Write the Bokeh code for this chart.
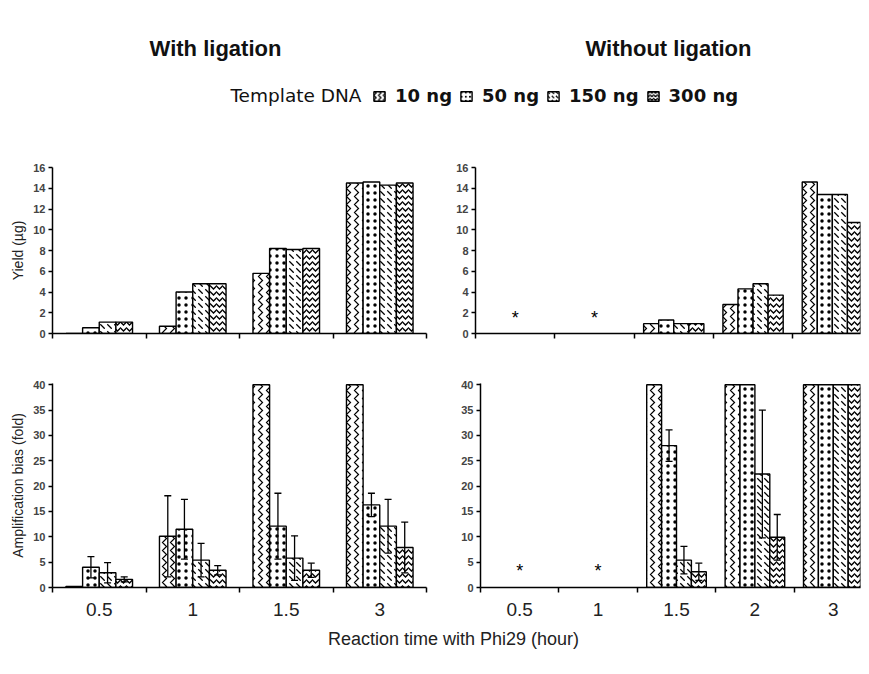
from bokeh.plotting import figure
from bokeh.layouts import column, row
from bokeh.models import (Range1d, FixedTicker, Whisker, ColumnDataSource, Label,
                          Legend, LegendItem, TeeHead)
from bokeh.embed import file_html
from bokeh.resources import INLINE
from bokeh.core.properties import value

nan = float("nan")

# ---------------- data ----------------
doses = ["10 ng", "50 ng", "150 ng", "300 ng"]
times_lig = ["0.5", "1", "1.5", "3"]
times_nolig = ["0.5", "1", "1.5", "2", "3"]

# Yield (ug), with ligation
yield_lig_10 = [0.0, 0.7, 5.8, 14.5]
yield_lig_50 = [0.55, 4.0, 8.2, 14.6]
yield_lig_150 = [1.1, 4.8, 8.1, 14.3]
yield_lig_300 = [1.1, 4.8, 8.2, 14.5]

# Yield (ug), without ligation (nan = no product, marked *)
yield_nolig_10 = [nan, nan, 0.95, 2.8, 14.6]
yield_nolig_50 = [nan, nan, 1.3, 4.3, 13.4]
yield_nolig_150 = [nan, nan, 0.95, 4.8, 13.4]
yield_nolig_300 = [nan, nan, 0.95, 3.7, 10.7]

# Amplification bias (fold), with ligation (40 = off scale)
bias_lig_10 = [0.2, 10.1, 40, 40]
bias_lig_50 = [4.0, 11.5, 12.1, 16.3]
bias_lig_150 = [2.9, 5.4, 5.8, 12.1]
bias_lig_300 = [1.6, 3.4, 3.4, 7.9]
err_lig_10 = [0, 8.0, 0, 0]
err_lig_50 = [2.1, 5.9, 6.5, 2.3]
err_lig_150 = [2.0, 3.3, 4.4, 5.3]
err_lig_300 = [0.5, 0.9, 1.4, 5.0]

# Amplification bias (fold), without ligation
bias_nolig_10 = [nan, nan, 40, 40, 40]
bias_nolig_50 = [nan, nan, 28.0, 40, 40]
bias_nolig_150 = [nan, nan, 5.4, 22.4, 40]
bias_nolig_300 = [nan, nan, 3.1, 9.9, 40]
err_nolig_10 = [0, 0, 0, 0, 0]
err_nolig_50 = [0, 0, 3.1, 0, 0]
err_nolig_150 = [0, 0, 2.7, 12.6, 0]
err_nolig_300 = [0, 0, 1.7, 4.5, 0]

# ---------------- styles ----------------
# (hatch pattern, hatch scale, hatch weight) per dose
styles = [("vertical_wave", 8, 1.2),
          ("dot", 7, 0.4),
          ("left_diagonal_dash", 7, 1.3),
          ("horizontal_wave", 6, 1.3)]
FONT = "Liberation Sans"


def panel(cats, vals, errs, ymax, ystep, w, h, mbl, mbr, mbt, mbb, xend, bar_w,
          ylabel, show_xlabels, star_y):
    p = figure(width=w, height=h, output_backend="svg", toolbar_location=None,
               x_range=Range1d(0, xend), y_range=Range1d(0, ymax),
               min_border_left=mbl, min_border_right=mbr,
               min_border_top=mbt, min_border_bottom=mbb)
    p.outline_line_color = None
    p.grid.visible = False
    n = len(cats)
    centers = [i + 0.5 for i in range(n)]
    for k, st in enumerate(styles):
        xs = [c + (k - 1.5) * bar_w for c in centers]
        src = ColumnDataSource(dict(x=xs, top=vals[k]))
        p.vbar(x="x", top="top", bottom=0, width=bar_w, source=src,
               fill_color="white", line_color="black", line_width=1.4,
               hatch_pattern=st[0], hatch_scale=st[1], hatch_weight=st[2],
               hatch_color="black")
        if errs is not None:
            e = errs[k]
            sel = [i for i in range(n) if e[i] > 0]
            if sel:
                esrc = ColumnDataSource(dict(
                    x=[xs[i] for i in sel],
                    upper=[vals[k][i] + e[i] for i in sel],
                    lower=[vals[k][i] - e[i] for i in sel]))
                wk = Whisker(source=esrc, base="x", upper="upper", lower="lower",
                             line_color="black", line_width=1.3, level="overlay",
                             upper_head=TeeHead(size=7, line_width=1.3),
                             lower_head=TeeHead(size=7, line_width=1.3))
                p.add_layout(wk)
    # asterisks where there was no product
    miss = [centers[i] for i in range(n) if vals[0][i] != vals[0][i]]
    if miss:
        p.text(x=miss, y=[star_y] * len(miss), text=["*"] * len(miss),
               text_align="center", text_baseline="middle",
               text_font=value(FONT), text_font_size="18px", text_color="black")

    xa = p.xaxis[0]
    xa.major_tick_out = 0
    xa.major_tick_in = 0
    xa.minor_tick_out = 5
    xa.minor_tick_in = 0
    xa.minor_tick_line_width = 1.5
    xa.minor_tick_line_color = "black"
    xa.axis_line_width = 1.5
    xa.axis_line_color = "black"
    if show_xlabels:
        xa.ticker = FixedTicker(ticks=centers, minor_ticks=list(range(n + 1)))
        xa.major_label_overrides = {c: lab for c, lab in zip(centers, cats)}
        xa.major_label_text_font = FONT
        xa.major_label_text_font_size = "19px"
        xa.major_label_standoff = 10
        xa.major_label_text_color = "#222222"
    else:
        xa.ticker = FixedTicker(ticks=[], minor_ticks=list(range(n + 1)))
        xa.major_label_standoff = 0

    ya = p.yaxis[0]
    ya.ticker = FixedTicker(ticks=list(range(0, int(ymax) + 1, ystep)))
    ya.major_tick_out = 4
    ya.major_tick_in = 0
    ya.minor_tick_line_color = None
    ya.major_tick_line_width = 1.5
    ya.axis_line_width = 1.5
    ya.axis_line_color = "black"
    ya.major_label_text_font = FONT
    ya.major_label_text_font_size = "11px"
    ya.major_label_text_font_style = "bold"
    ya.major_label_standoff = 3
    if ylabel:
        ya.axis_label = ylabel
        ya.axis_label_text_font = FONT
        ya.axis_label_text_font_size = "14px"
        ya.axis_label_text_font_style = "normal"
        ya.axis_label_standoff = 4
        ya.axis_label_text_color = "#222222"
    return p


tl = panel(times_lig, [yield_lig_10, yield_lig_50, yield_lig_150, yield_lig_300], None,
           16, 2, 440, 210, 52, 14, 23, 17, 4, 0.178, "Yield (µg)", False, 1.5)
tr = panel(times_nolig, [yield_nolig_10, yield_nolig_50, yield_nolig_150, yield_nolig_300], None,
           16, 2, 421, 210, 35, 1, 27, 17, 385 / 79.3, 0.19, None, False, 1.5)
bl = panel(times_lig, [bias_lig_10, bias_lig_50, bias_lig_150, bias_lig_300],
           [err_lig_10, err_lig_50, err_lig_150, err_lig_300],
           40.25, 5, 440, 275, 52, 14, 33, 38, 4, 0.178, "Amplification bias (fold)", True, 3.3)
br = panel(times_nolig, [bias_nolig_10, bias_nolig_50, bias_nolig_150, bias_nolig_300],
           [err_nolig_10, err_nolig_50, err_nolig_150, err_nolig_300],
           40.25, 5, 421, 275, 40, 1, 29, 38, 380 / 78.4, 0.19, None, True, 3.3)

# ---------------- header: titles + legend ----------------
hd = figure(width=861, height=140, output_backend="svg", toolbar_location=None,
            x_range=Range1d(0, 861), y_range=Range1d(0, 140),
            x_axis_location=None, y_axis_location=None, min_border=0)
hd.outline_line_color = None
hd.grid.visible = False
hd.add_layout(Label(x=215, y=92, x_units="screen", y_units="screen", text="With ligation",
                    text_align="center", text_baseline="middle", text_font=FONT,
                    text_font_size="22px", text_font_style="bold", text_color="#111111"))
hd.add_layout(Label(x=668, y=92, x_units="screen", y_units="screen", text="Without ligation",
                    text_align="center", text_baseline="middle", text_font=FONT,
                    text_font_size="22px", text_font_style="bold", text_color="#111111"))
hd.add_layout(Label(x=361, y=45, x_units="screen", y_units="screen", text="Template DNA",
                    text_align="right", text_baseline="middle", text_font="DejaVu Sans",
                    text_font_size="18.5px", text_color="#111111"))
items = []
for d, st in zip(doses, styles):
    r = hd.vbar(x=[nan], top=[nan], width=1, fill_color="white", line_color="black",
                line_width=1.4, hatch_pattern=st[0], hatch_scale=st[1] * 0.6,
                hatch_weight=st[2], hatch_color="black")
    items.append(LegendItem(label=d, renderers=[r]))
leg = Legend(items=items, orientation="horizontal", location=(372, 34),
             glyph_width=14, glyph_height=12, label_standoff=9, spacing=7,
             padding=0, margin=0, border_line_color=None, background_fill_alpha=0,
             label_text_font="DejaVu Sans", label_text_font_size="18px",
             label_text_font_style="bold", label_text_color="#111111")
hd.add_layout(leg)

# ---------------- footer: x axis title ----------------
ft = figure(width=861, height=35, output_backend="svg", toolbar_location=None,
            x_range=Range1d(0, 861), y_range=Range1d(0, 35),
            x_axis_location=None, y_axis_location=None, min_border=0)
ft.outline_line_color = None
ft.grid.visible = False
ft.add_layout(Label(x=453, y=22, x_units="screen", y_units="screen",
                    text="Reaction time with Phi29 (hour)", text_align="center",
                    text_baseline="middle", text_font=FONT, text_font_size="18px",
                    text_color="#222222"))

layout = column(hd, row(tl, tr), row(bl, br), ft)
open("out.html", "w").write(file_html(layout, INLINE))
